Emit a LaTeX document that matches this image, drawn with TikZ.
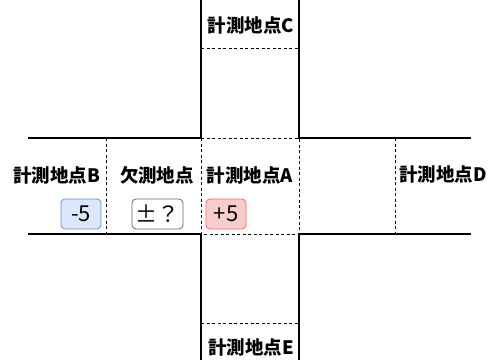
\documentclass[tikz,border=0pt]{standalone}
\usepackage{fontspec}
\setmainfont{Noto Sans CJK JP}
\definecolor{bluefill}{HTML}{DAE8FC}
\definecolor{bluedraw}{HTML}{6C8EBF}
\definecolor{redfill}{HTML}{F8CECC}
\definecolor{reddraw}{HTML}{FF6666}
\definecolor{graydraw}{HTML}{666666}
\begin{document}
\begin{tikzpicture}[x=1pt,y=-1pt,
  road/.style={line width=1.8pt,black},
  sep/.style={line width=0.8pt,black,dash pattern=on 3pt off 2.5pt},
  lbl/.style={font=\fontsize{18.5}{22}\selectfont\bfseries,inner sep=0pt},
  val/.style={font=\fontsize{22}{26}\selectfont,rounded corners=4pt,line width=0.8pt,minimum width=40pt,minimum height=30pt,inner sep=0pt}]
\useasboundingbox (0,0) rectangle (491,360);
% roads
\draw[road] (201,0) -- (201,138) -- (28,138);
\draw[road] (299,0) -- (299,138) -- (471,138);
\draw[road] (28,234) -- (201,234) -- (201,360);
\draw[road] (471,234) -- (299,234) -- (299,360);
% dashed separators
\draw[sep] (201,138) rectangle (299,234);
\draw[sep] (106,138) -- (106,234);
\draw[sep] (395,138) -- (395,234);
\draw[sep] (201,48) -- (299,48);
\draw[sep] (201,323) -- (299,323);
% labels
\node[lbl] (C) at (251,26) {計測地点C};
\node[lbl] (A) at (250,176) {計測地点A};
\node[lbl] (B) at (56.5,176) {計測地点B};
\node[lbl] (M) at (157,175) {欠測地点};
\node[lbl] (D) at (443,175) {計測地点D};
\node[lbl] (E) at (251,348) {計測地点E};
% values
\node[val,draw=bluedraw,fill=bluefill] (vB) at (81,214) {-5};
\node[val,draw=graydraw,fill=white,minimum width=51pt] (vM) at (157.5,214) {±？};
\node[val,draw=reddraw,fill=redfill] (vA) at (226,214) {+5};
\end{tikzpicture}
\end{document}
